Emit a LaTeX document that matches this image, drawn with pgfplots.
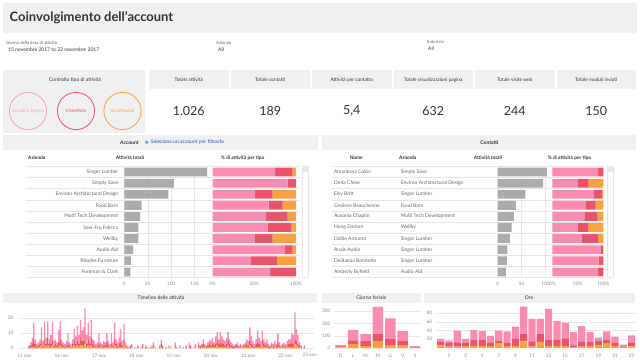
\documentclass[border=0pt]{standalone}
\usepackage{pgfplots}
\usepackage{pgfplotstable}
\pgfplotsset{compat=1.18}
\usepackage{fontspec}
\setmainfont{Lato}
\newfontfamily\dejavu{DejaVu Sans}
\definecolor{cpink}{HTML}{FA8CB2}
\definecolor{cred}{HTML}{E9546B}
\definecolor{corange}{HTML}{F9A23F}
\definecolor{cgray}{HTML}{ABABAB}
\definecolor{band}{HTML}{F0F0F0}
\definecolor{txtc}{HTML}{333333}
\definecolor{namec}{HTML}{666666}
\definecolor{tickc}{HTML}{8C8C8C}
\definecolor{gridc}{HTML}{E6E6E6}
\definecolor{cblue}{HTML}{4E79D9}
\definecolor{cpinkl}{HTML}{F7A1BE}
\newcommand\fs[1]{\fontsize{#1}{#1}\selectfont}
\pgfplotsset{
  dash/.style={scale only axis, axis line style={draw=none}, major tick length=0pt,
    tick label style={font=\fs{4.7}, text=tickc},
    grid style={draw=gridc, line width=0.4pt},
    /pgf/number format/assume math mode=true},
}
\pgfplotstableread{
h o r p
3 0 1 1
4 1 1 2
5 1 2 4
6 1 4 12
7 1 2 3
8 0 1 2
9 1 1 2
10 1 2 3
11 2 3 9
12 1 1 3
13 2 4 12
14 1 2 4
15 2 5 11
16 1 2 3
17 1 2 6
18 2 4 12
19 1 1 3
20 1 2 3
21 1 1 2
22 1 3 8
23 2 4 12
24 1 2 3
25 1 1 2
26 0 1 2
27 1 1 3
28 1 3 6
29 1 1 2
30 0 1 2
31 1 2 3
32 2 3 8
33 1 2 5
34 2 3 10
35 1 2 6
36 2 5 12
37 2 3 7
38 1 4 9
39 3 6 18
40 1 2 6
41 2 4 11
42 1 2 5
43 2 5 12
44 1 2 3
45 1 1 3
46 0 1 2
47 1 1 2
48 1 3 6
49 1 1 2
50 0 1 2
51 1 1 3
52 1 1 2
53 1 3 6
54 1 1 3
55 0 1 2
56 1 2 7
57 1 1 2
58 2 4 11
59 1 2 3
60 0 1 3
61 1 2 4
62 1 3 9
63 1 1 3
64 2 4 10
65 1 1 2
66 0 1 1
67 0 0 1
68 0 1 1
69 1 1 1
71 0 0 1
73 0 1 1
75 0 0 1
76 1 1 1
78 0 1 1
79 0 0 1
81 0 0 1
82 1 0 1
83 1 1 2
84 0 0 1
87 0 1 1
88 1 2 3
89 0 1 1
91 0 0 1
93 1 0 1
94 0 0 1
97 1 1 2
98 0 0 1
100 1 0 1
102 0 0 1
104 0 1 1
106 1 1 2
107 0 1 1
109 0 0 1
110 1 1 1
112 1 1 2
113 0 1 1
114 1 1 1
115 1 2 3
116 1 1 1
117 0 1 1
118 1 1 2
119 1 2 3
120 1 1 3
121 1 2 4
122 1 1 2
123 1 2 5
124 2 3 6
125 1 2 3
126 1 3 7
127 1 2 5
128 1 2 3
129 1 1 3
130 1 2 4
131 2 3 6
132 1 2 3
133 1 1 2
134 0 1 2
135 0 1 1
136 1 1 1
137 1 1 2
138 0 1 1
139 1 1 1
140 0 1 1
141 1 1 1
142 1 1 2
143 1 2 3
144 1 1 3
145 2 3 9
146 1 2 5
147 1 1 3
148 0 1 2
149 1 2 3
150 1 3 8
151 1 2 4
152 1 1 3
153 2 3 7
154 1 2 3
155 1 1 2
156 1 2 3
157 0 1 2
158 0 1 1
159 1 1 2
160 0 1 2
161 1 1 3
162 0 1 2
163 1 3 6
164 1 1 2
165 0 1 1
166 1 1 1
167 1 1 2
168 0 1 2
169 1 1 3
170 1 2 3
171 1 2 3
172 1 3 6
173 1 2 6
174 3 5 16
175 2 3 8
176 1 2 6
177 1 1 2
178 0 1 1
180 0 1 1
}\timeline
\begin{document}
\begin{tikzpicture}[x=1pt,y=1pt]
\fill[white] (0,0) rectangle (640,363);
% title
\fill[band] (3.3,329.7) rectangle (636.7,359.7);
\node[anchor=west, inner sep=0pt, text=txtc] at (9.5,345) {\fs{13}\bfseries Coinvolgimento dell’account};
% filters
\node[anchor=west, inner sep=0pt, text=namec] at (6,320) {\fs{4.3}Giorno della data di attività};
\node[anchor=west, inner sep=0pt, text=txtc] at (8,313) {\fs{5}15 novembre 2017 to 22 novembre 2017};
\node[anchor=west, inner sep=0pt, text=namec] at (216,320) {\fs{4.3}Azienda};
\node[anchor=west, inner sep=0pt, text=txtc] at (218,313) {\fs{5}All};
\node[anchor=west, inner sep=0pt, text=namec] at (427,321) {\fs{4.3}Industria};
\node[anchor=west, inner sep=0pt, text=txtc] at (428,314) {\fs{5}All};
% control box
\fill[band] (3.3,229.7) rectangle (145,293);
\node[text=txtc] at (75,283) {\fs{5}Controllo tipo di attività};
\draw[cpinkl, line width=0.8pt] (28,252) circle (18.6);
\draw[cred, line width=0.8pt] (76,252) circle (18.6);
\draw[corange, line width=0.8pt] (122.5,252) circle (18.6);
\node[text=cpinkl] at (28,252) {\fs{4.6}Visualizz Pagina};
\node[text=cred] at (76,252) {\fs{4.6}VisiteWeb};
\node[text=corange] at (122.5,252) {\fs{4.6}InvioModuli};
% KPI
\foreach \xa/\lab/\val in {149/Totale attività/1.026, 230.5/Totale contatti/189, 312/Attività per contatto/{5,4}, 393.5/Totale visualizzazioni pagina/632, 475/Totale visite web/244, 556.5/Totale moduli inviati/150}{
  \fill[band] (\xa,274) rectangle ++(79.5,19);
  \node[text=txtc] at (\xa+39.75,283) {\fs{4.8}\lab};
  \node[text=txtc] at (\xa+39.75,252) {\fs{12.5}\val};
}
% section bands
\fill[band] (3.3,213) rectangle (318.3,228);
\fill[band] (321.7,213) rectangle (636,228);
\node[anchor=west, inner sep=0pt, text=txtc] at (120,220.5) {\fs{5}\bfseries Account};
\node[anchor=west, inner sep=0pt, text=cblue] at (144.2,220.7) {\fs{5.5}\dejavu ★};
\node[anchor=west, inner sep=0pt, text=cblue] at (150.7,220.5) {\fs{5}\bfseries Seleziona un account per filtrarlo};
\node[text=txtc] at (489.5,220.5) {\fs{5}\bfseries Contatti};
% column headers
\node[anchor=west, inner sep=0pt, text=txtc] at (28,205) {\fs{4.8}\bfseries Azienda};
\node[text=txtc] at (130,205) {\fs{4.8}\bfseries Attività totali};
\node[text=txtc] at (242.8,205) {\fs{4.8}\bfseries \% di attività per tipo};
\node[text=txtc] at (356.3,205) {\fs{4.8}\bfseries Nome};
\node[text=txtc] at (407.7,205) {\fs{4.8}\bfseries Azienda};
\node[text=txtc] at (488,205) {\fs{4.8}\bfseries Attività totali};
\node[text=txtc] at (569.5,205) {\fs{4.8}\bfseries \% di attività per tipo};
% row separators
\foreach \k in {0,...,10}{
  \draw[gridc, line width=0.4pt] (26,196.5-11.1*\k) -- (300,196.5-11.1*\k);
  \draw[gridc, line width=0.4pt] (331.7,196.5-11.1*\k) -- (605,196.5-11.1*\k);
}
% scrollbars
\draw[gridc, line width=0.5pt, fill=white] (302,86) rectangle (308.5,196.5);
\fill[gridc!70!gray!40] (302.6,190.5) rectangle (307.9,196);
\draw[gridc, line width=0.5pt, fill=white] (607,86) rectangle (613.5,196.5);
\fill[gridc!70!gray!40] (607.6,190.5) rectangle (612.9,196);
% Account totals
\begin{axis}[dash, at={(124.3pt,85.5pt)}, anchor=south west, width=85.7pt, height=111pt,
  xmin=0, xmax=183, ymin=-0.5, ymax=9.5, y dir=reverse, xbar, bar width=8.8pt,
  xtick={0,50,100,150}, xmajorgrids, xticklabel style={yshift=-1pt},
  ytick={0,...,9}, yticklabels={Singer Lumber, Simply Save, Environ Architectural Design, Food Barn, Multi Tech Development, Sew-Fro Fabrics, Wellby, Audio Aid, Rhodes Furniture, Foreman \& Clark},
  yticklabel style={font=\fs{5}, text=namec, xshift=-2.5pt}]
\addplot[fill=cgray, draw=none] coordinates {(177,0) (106,1) (94,2) (37,3) (34,4) (30,5) (30,6) (19,7) (14,8) (13,9)};
\end{axis}
\begin{axis}[dash, at={(212.7pt,85.5pt)}, anchor=south west, width=83.3pt, height=111pt,
  xmin=0, xmax=100, ymin=-0.5, ymax=9.5, y dir=reverse, xbar stacked, bar width=8.8pt,
  xtick={0,50,100}, xticklabels={0\%,50\%,100\%}, xticklabel style={yshift=-1pt}, ytick=\empty]
\addplot[fill=cpink, draw=none] coordinates {(75,0) (90,1) (51,2) (67,3) (64,4) (66,5) (50,6) (86,7) (46,8) (69,9)};
\addplot[fill=cred, draw=none] coordinates {(21,0) (10,1) (21,2) (17,3) (26,4) (28,5) (22,6) (10,7) (31,8) (31,9)};
\addplot[fill=corange, draw=none] coordinates {(4,0) (0,1) (28,2) (16,3) (10,4) (6,5) (28,6) (4,7) (23,8) (0,9)};
\end{axis}
% Contacts totals
\begin{axis}[dash, at={(497.7pt,85.5pt)}, anchor=south west, width=50.6pt, height=111pt,
  xmin=0, xmax=106, ymin=-0.5, ymax=9.5, y dir=reverse, xbar, bar width=8.8pt,
  xtick={0,50,100}, xmajorgrids, xticklabel style={yshift=-1pt},
  ytick={0,...,9},
  yticklabels={
    \makebox[66.7pt][l]{Amankaya Colón}\makebox[96.7pt][l]{Simply Save},
    \makebox[66.7pt][l]{Delta Chew}\makebox[96.7pt][l]{Environ Architectural Design},
    \makebox[66.7pt][l]{Elsy Britt}\makebox[96.7pt][l]{Singer Lumber},
    \makebox[66.7pt][l]{Cesáreo Beauchesne}\makebox[96.7pt][l]{Food Barn},
    \makebox[66.7pt][l]{Ausonia Chaplin}\makebox[96.7pt][l]{Multi Tech Development},
    \makebox[66.7pt][l]{Hung Damon}\makebox[96.7pt][l]{Wellby},
    \makebox[66.7pt][l]{Dollie Antunez}\makebox[96.7pt][l]{Singer Lumber},
    \makebox[66.7pt][l]{Anais Aubin}\makebox[96.7pt][l]{Singer Lumber},
    \makebox[66.7pt][l]{Deidamia Bonnette}\makebox[96.7pt][l]{Singer Lumber},
    \makebox[66.7pt][l]{Amberly Byfield}\makebox[96.7pt][l]{Audio Aid}},
  yticklabel style={font=\fs{5}, text=namec, inner sep=0pt}]
\addplot[fill=cgray, draw=none] coordinates {(103,0) (95,1) (58,2) (38,3) (34,4) (29,5) (26,6) (20,7) (19,8) (17,9)};
\end{axis}
\begin{axis}[dash, at={(552.3pt,85.5pt)}, anchor=south west, width=51pt, height=111pt,
  xmin=0, xmax=100, ymin=-0.5, ymax=9.5, y dir=reverse, xbar stacked, bar width=8.8pt,
  xtick={0,50,100}, xticklabels={0\%,50\%,100\%}, xticklabel style={yshift=-1pt}, ytick=\empty]
\addplot[fill=cpink, draw=none] coordinates {(90,0) (50,1) (82,2) (65,3) (63,4) (50,5) (58,6) (95,7) (91,8) (90,9)};
\addplot[fill=cred, draw=none] coordinates {(10,0) (21,1) (15,2) (20,3) (26,4) (20,5) (32,6) (4,7) (9,8) (10,9)};
\addplot[fill=corange, draw=none] coordinates {(0,0) (29,1) (3,2) (15,3) (11,4) (30,5) (10,6) (1,7) (0,8) (0,9)};
\end{axis}
% bottom bands
\fill[band] (3.3,59.7) rectangle (316.7,70.3);
\fill[band] (321.7,59.7) rectangle (420.7,70.3);
\fill[band] (424.3,59.7) rectangle (635,70.3);
\node[text=txtc] at (161,65) {\fs{5}Timeline delle attività};
\node[text=txtc] at (371.3,65) {\fs{5}Giorno feriale};
\node[text=txtc] at (529,65) {\fs{5}Ore};
% timeline
\begin{axis}[dash, at={(19.8pt,14.7pt)}, anchor=south west, width=293.8pt, height=42pt,
  xmin=-3, xmax=186, ymin=0, ymax=28, ybar stacked, bar width=1.3pt,
  ytick={0,10,20}, ymajorgrids, yticklabel style={xshift=-3pt},
  xtick={0,24,48,72,96,120,144,168},
  xticklabels={15 nov,16 nov,17 nov,18 nov,19 nov,20 nov,21 nov,22 nov},
  xticklabel style={yshift=-2.5pt}]
\addplot[fill=corange, draw=none] table[x=h, y=o] {\timeline};
\addplot[fill=cred, draw=none] table[x=h, y=r] {\timeline};
\addplot[fill=cpink, draw=none] table[x=h, y=p] {\timeline};
\end{axis}
\node[text=tickc] at (309.7,8.5) {\fs{4.7}23 nov};
% giorno feriale
\begin{axis}[dash, at={(333.9pt,15pt)}, anchor=south west, width=86.8pt, height=41.8pt,
  xmin=-0.55, xmax=6.45, ymin=0, ymax=340, ybar stacked, bar width=10.5pt,
  ytick={0,100,200,300}, ymajorgrids,
  xtick={0,...,6}, xticklabels={D,L,M,M,G,V,S}, xticklabel style={yshift=-2.5pt}]
\addplot[fill=corange, draw=none] coordinates {(0,5) (1,32) (2,15) (3,55) (4,20) (5,20) (6,3)};
\addplot[fill=cred, draw=none] coordinates {(0,8) (1,30) (2,40) (3,61) (4,57) (5,39) (6,4)};
\addplot[fill=cpink, draw=none] coordinates {(0,12) (1,86) (2,58) (3,219) (4,163) (5,81) (6,8)};
\end{axis}
% ore
\begin{axis}[dash, at={(435.7pt,15pt)}, anchor=south west, width=200.9pt, height=42.2pt,
  xmin=-0.6, xmax=23.6, ymin=0, ymax=97, ybar stacked, bar width=7.2pt,
  ytick={20,40,60,80}, ymajorgrids,
  xtick={1,3,...,23}, xticklabel style={yshift=-2.5pt}]
\addplot[fill=corange, draw=none] coordinates {(0,6) (1,3) (2,3) (3,3) (4,5) (5,5) (6,3) (7,10) (8,3) (9,5) (10,15) (11,3) (12,14) (13,5) (14,5) (15,5) (16,2) (17,3) (18,3) (19,6) (20,10) (21,3) (22,2) (23,4)};
\addplot[fill=cred, draw=none] coordinates {(0,8) (1,9) (2,10) (3,9) (4,13) (5,13) (6,10) (7,7) (8,9) (9,16) (10,18) (11,12) (12,18) (13,13) (14,14) (15,17) (16,4) (17,12) (18,11) (19,11) (20,8) (21,9) (22,2) (23,8)};
\addplot[fill=cpink, draw=none] coordinates {(0,7) (1,5) (2,27) (3,9) (4,23) (5,21) (6,15) (7,23) (8,26) (9,28) (10,62) (11,52) (12,35) (13,72) (14,43) (15,36) (16,31) (17,35) (18,23) (19,7) (20,20) (21,14) (22,4) (23,17)};
\end{axis}
\end{tikzpicture}
\end{document}
